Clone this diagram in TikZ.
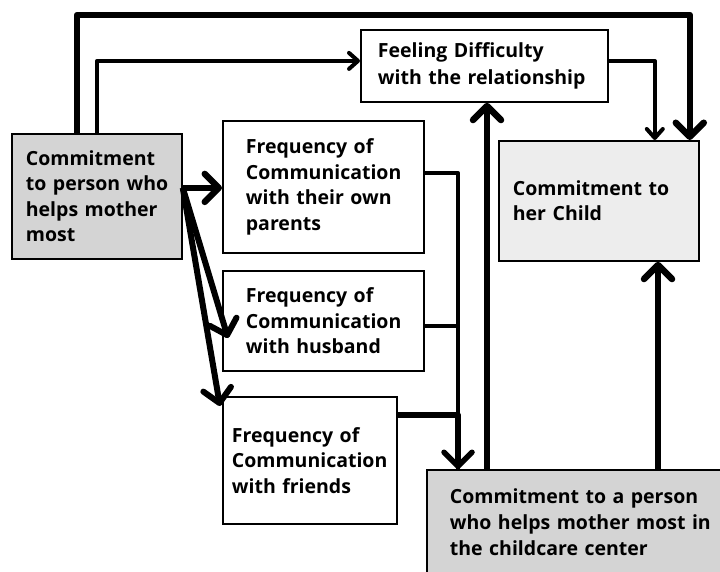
\documentclass[tikz,border=0pt]{standalone}
\usepackage{fontspec}
\setmainfont{Open Sans}
\usetikzlibrary{arrows.meta}
\begin{document}
\begin{tikzpicture}[x=1pt,y=-1pt,
  box/.style={draw=black, line width=1.8pt, anchor=north west, inner ysep=0pt,
    inner xsep=3pt, align=left, font=\bfseries\fontsize{19.5}{25.5}\selectfont},
  indent/.style={execute at begin node={\leftskip=#1\relax}},
  thk/.style={line width=6.5pt, line join=round},
  thn/.style={line width=4pt, line join=round},
  bigtip/.style={-{Straight Barb[length=14pt,width=28pt,round]}},
  smalltip/.style={-{Straight Barb[length=9pt,width=16pt,round]}}]
\useasboundingbox (0,0) rectangle (720,572);
\clip (0,0) rectangle (720,572);

% boxes
\node[box, fill=black!17, minimum width=170pt, minimum height=125pt,
      text width=164pt, indent=11pt] (left) at (11,133)
  {Commitment\\to person who\\helps mother\\most};
\node[box, fill=white, minimum width=201pt, minimum height=132pt,
      text width=195pt, indent=20pt] (parents) at (222,120)
  {Frequency of\\Communication\\with their own\\parents};
\node[box, fill=white, minimum width=201pt, minimum height=100pt,
      text width=195pt, indent=20pt] (husband) at (222,270)
  {Frequency of\\Communication\\with husband};
\node[box, fill=white, minimum width=174pt, minimum height=127pt,
      text width=168pt, indent=6pt] (friends) at (222,396)
  {Frequency of\\Communication\\with friends};
\node[box, fill=white, minimum width=247pt, minimum height=72pt,
      text width=241pt, indent=14pt, font=\bfseries\fontsize{19.5}{27}\selectfont] (feeling) at (360,29)
  {Feeling Difficulty\\with the relationship};
\node[box, fill=black!7, minimum width=200pt, minimum height=120pt,
      text width=194pt, indent=11pt] (child) at (498,140)
  {Commitment to\\her Child};
\node[box, fill=black!17, minimum width=310pt, minimum height=105pt,
      text width=304pt, indent=20pt, font=\bfseries\fontsize{19.5}{26}\selectfont] (bottom) at (426,469)
  {Commitment to a person\\who helps mother most in\\the childcare center};

% rails from the left box over the top
\draw[thk, bigtip] ([xshift=66pt]left.north west) -- ++(0,-118) -| ([xshift=-10pt]child.north east);
\draw[thn, smalltip] ([xshift=86pt]left.north west) |- ([yshift=5pt]feeling.west);
\draw[thn, smalltip] ([yshift=5pt]feeling.east) -| ([xshift=-45pt]child.north east);

% fan-out from the left box
\draw[thk, bigtip] ([yshift=8.5pt]left.east) coordinate (fork) -- (fork -| parents.west);
\draw[line width=6pt, bigtip] (fork) -- ([xshift=6pt,yshift=-68pt]husband.north west);
\draw[line width=6pt, bigtip] (fork) -- ([xshift=-2pt,yshift=-10pt]friends.north west);

% communication boxes merge into the childcare box
\coordinate (drop) at ([xshift=32pt]bottom.north west);
\draw[thn] ([yshift=14pt]parents.east) -| (drop);
\draw[thn] ([yshift=-5pt]husband.east) -- ([yshift=-5pt]husband.east -| drop);
\draw[line width=5.5pt, line join=round, bigtip] ([yshift=-19pt]friends.north east) -| (drop);

% childcare box upwards
\draw[thk, bigtip] ([xshift=61pt]bottom.north west) -- ([xshift=61pt]bottom.north west |- feeling.south);
\draw[thk, bigtip] ([xshift=232pt]bottom.north west) -- ([xshift=232pt]bottom.north west |- child.south);
\end{tikzpicture}
\end{document}
